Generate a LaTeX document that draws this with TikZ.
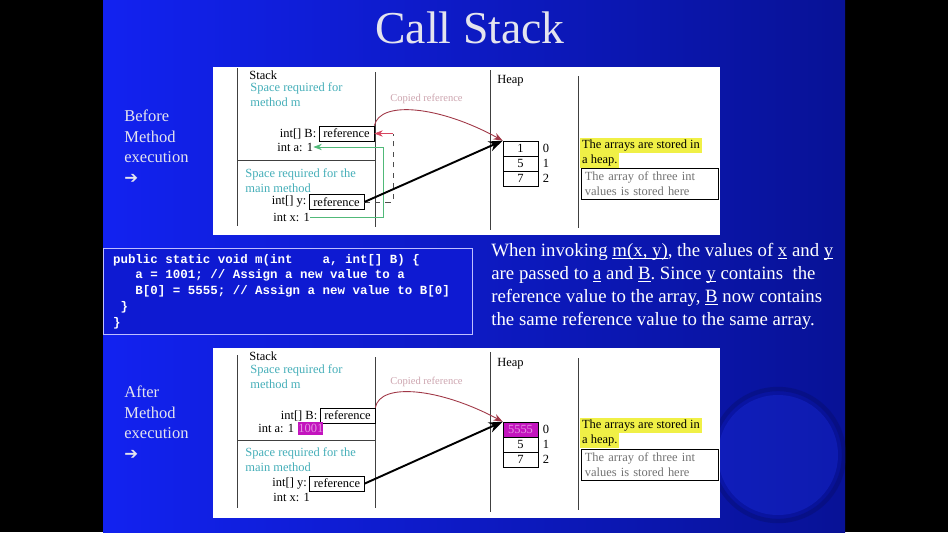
\documentclass[tikz,border=0pt]{standalone}
\usepackage{fontspec}
\setmainfont{Liberation Serif}
\setmonofont{Liberation Mono}
\newfontfamily\arrowfont{DejaVu Sans}
\usetikzlibrary{arrows.meta, calc}

\definecolor{slideL}{RGB}{18,34,240}
\definecolor{slideR}{RGB}{8,18,150}
\definecolor{codeblue}{RGB}{14,26,210}
\definecolor{titlegray}{RGB}{228,228,238}
\definecolor{spaceteal}{RGB}{70,175,185}
\definecolor{copypink}{RGB}{205,165,175}
\definecolor{curvered}{RGB}{160,55,70}
\definecolor{argred}{RGB}{215,70,95}
\definecolor{arggreen}{RGB}{80,185,120}
\definecolor{hiyellow}{RGB}{240,240,70}
\definecolor{newmag}{RGB}{195,20,190}
\definecolor{globeblue}{RGB}{30,50,235}

% fixed code space and a low underline
\newcommand\csp{\hspace*{0.6em}}
\newcommand\ulbase[1]{\setbox0\hbox{#1}\rlap{\rule[-1.4pt]{\wd0}{0.45pt}}#1}

\tikzset{
  figtext/.style={font=\fontsize{7.1}{8.5}\selectfont, inner sep=0pt},
  frametext/.style={figtext, text=spaceteal, align=left, anchor=north west},
  wall/.style={black!75, line width=0.5pt},
  refbox/.style={figtext, draw, minimum width=1.1cm, minimum height=0.3cm},
  cell/.style={figtext, draw, minimum width=0.7cm, minimum height=0.3cm},
  hilite/.style={figtext, fill=hiyellow, inner sep=1pt, anchor=north west},
  arrnote/.style={figtext, draw, text=black!55, align=left, anchor=north west,
    inner sep=2pt, text width=2.6cm},
  copied/.style={font=\fontsize{6}{7}\selectfont, text=copypink, inner sep=0pt, anchor=west},
  newval/.style={figtext, fill=newmag, text=newmag!45!white, minimum width=0.5cm,
    minimum height=0.26cm},
  sidelabel/.style={font=\fontsize{9.4}{11.6}\selectfont, text=titlegray, align=left,
    anchor=north west, inner sep=0pt},
  ptr/.style={->, line width=1.1pt},
  copyarrow/.style={->, curvered, line width=0.5pt}
}

\begin{document}
\begin{tikzpicture}[x=0.02cm, y=-0.02cm, >=Stealth]
    \useasboundingbox (0,0) rectangle (948,532);
    \fill[black] (0,0) rectangle (948,532);
    \shade[left color=slideL, right color=slideR] (103,0) rectangle (845,532);
    % globe in the corner
    \fill[globeblue, opacity=0.3] (778,455) circle (60);
    \draw[slideR!60!black, line width=2.5pt, opacity=0.3] (778,455) circle (66);

    \node[font=\fontsize{26}{30}\selectfont, text=titlegray] (title) at (470,28) {Call Stack};

    \node[sidelabel] (before) at (124,110) {Before\\Method\\execution\\{\arrowfont\bfseries ➔}};
    \node[sidelabel] (after) at (124,386) {After\\Method\\execution\\{\arrowfont\bfseries ➔}};

    % method code
    \node[draw=blue!25!white, fill=codeblue, text=white, line width=0.6pt,
      minimum width=7.4cm, minimum height=1.66cm, text width=7.0cm, inner xsep=0.2cm,
      align=left, font=\ttfamily\bfseries\fontsize{7.1}{9}\selectfont] (code) at (288,291.5)
      {public\csp static\csp void\csp m(int\csp\csp\csp\csp a,\csp int[]\csp B)\csp\{\\
       \csp\csp\csp a\csp =\csp 1001;\csp //\csp Assign\csp a\csp new\csp value\csp to\csp a\\
       \csp\csp\csp B[0]\csp =\csp 5555;\csp //\csp Assign\csp a\csp new\csp value\csp to\csp B[0]\\
       \csp\}\\
       \}};

    \node[font=\fontsize{10.7}{13}\selectfont, text=white, align=left, anchor=north west,
      inner sep=0pt] (explain) at (491,243)
      {When invoking \ulbase{m(x, y)}, the values of \ulbase{x} and \ulbase{y}\\
       are passed to \ulbase{a} and \ulbase{B}. Since \ulbase{y} contains~ the\\
       reference value to the array, \ulbase{B} now contains\\
       the same reference value to the same array.};

    % before the call
    \fill[white] (213,67) rectangle (720,235);
    \draw[wall] (237,68) -- (237,226);
    \draw[wall] (375,72) -- (375,227);
    \draw[wall] (237,160) -- (375,160);
    \draw[wall] (490,70) -- (490,230);
    \draw[wall] (578,76) -- (578,228);

    \node[figtext, anchor=north west] (stkb) at (249,70) {Stack};
    \node[frametext] (spmb) at (250,82.5) {Space required for\\method m};
    \node[refbox] (refB) at (346.5,133.5) {reference};
    \node[figtext, anchor=east] (varB) at (refB.west) {int[] B:\,};
    \node[figtext, anchor=west] (vara) at (277,147) {int a: 1};
    \node[frametext] (spmainb) at (245,168.5) {Space required for the\\main method};
    \node[refbox] (refy) at (336.5,202) {reference};
    \node[figtext, anchor=east] (vary) at (refy.west) {int[] y:\,};
    \node[figtext, anchor=west] (varx) at (273,217) {int x: 1};
    \node[copied] (copyb) at (390,99) {Copied reference};

    \node[figtext, anchor=north west] (heapb) at (497,75) {Heap};
    \node[cell] (hb0) at (520.5,148.5) {1};
    \node[cell] (hb1) at (520.5,163.5) {5};
    \node[cell] (hb2) at (520.5,178.5) {7};
    \node[figtext] (ib0) at (546,148.5) {0};
    \node[figtext] (ib1) at (546,163.5) {1};
    \node[figtext] (ib2) at (546,178.5) {2};
    \node[hilite] (noteb1) at (580,137.5) {The arrays are stored in};
    \node[hilite] (noteb2) at (noteb1.south west) {a heap.};
    \node[arrnote] (arrb) at (581,168) {The array of three int\\values is stored here};

    \coordinate (dtop) at (393,133.5);
    \coordinate (gtop) at (383,147);
    \draw[dashed, black!70] (refy.east) -| (dtop);
    \draw[->, argred] (dtop) -- (refB.east);
    \draw[->, arggreen] (varx.east) -| (gtop) -- (vara.east);
    \draw[copyarrow] (refB.north east) .. controls (380,100) and (440,106) .. (hb0.north west);
    \draw[ptr] (refy.east) -- (hb0.north west);

    % after the call
    \fill[white] (213,348) rectangle (720,518);
    \draw[wall] (237,355) -- (237,508);
    \draw[wall] (375,357) -- (375,508);
    \draw[wall] (237,440) -- (375,440);
    \draw[wall] (490,352) -- (490,512);
    \draw[wall] (578,358) -- (578,510);

    \node[figtext, anchor=north west] (stka) at (249,351) {Stack};
    \node[frametext] (spma) at (250,364.5) {Space required for\\method m};
    \node[refbox] (refBa) at (347.5,415.5) {reference};
    \node[figtext, anchor=east] (varBa) at (refBa.west) {int[] B:\,};
    \node[figtext, anchor=west] (varaa) at (258,428) {int a: 1};
    \node[newval, anchor=west] (newa) at (298,428.5) {1001};
    \node[frametext] (spmaina) at (245,447.5) {Space required for the\\main method};
    \node[refbox] (refya) at (337,483.5) {reference};
    \node[figtext, anchor=east] (varya) at (refya.west) {int[] y:\,};
    \node[figtext, anchor=west] (varxa) at (273,497) {int x: 1};
    \node[copied] (copya) at (390,382) {Copied reference};

    \node[figtext, anchor=north west] (heapa) at (497,358) {Heap};
    \node[cell, fill=newmag, text=newmag!45!white] (ha0) at (520.5,429.5) {5555};
    \node[cell] (ha1) at (520.5,444.5) {5};
    \node[cell] (ha2) at (520.5,459.5) {7};
    \node[figtext] (ia0) at (546,429.5) {0};
    \node[figtext] (ia1) at (546,444.5) {1};
    \node[figtext] (ia2) at (546,459.5) {2};
    \node[hilite] (notea1) at (580,417.5) {The arrays are stored in};
    \node[hilite] (notea2) at (notea1.south west) {a heap.};
    \node[arrnote] (arra) at (581,449) {The array of three int\\values is stored here};

    \draw[copyarrow] (refBa.north east) .. controls (380,382) and (440,388) .. (ha0.north west);
    \draw[ptr] (refya.east) -- (ha0.north west);
\end{tikzpicture}
\end{document}
